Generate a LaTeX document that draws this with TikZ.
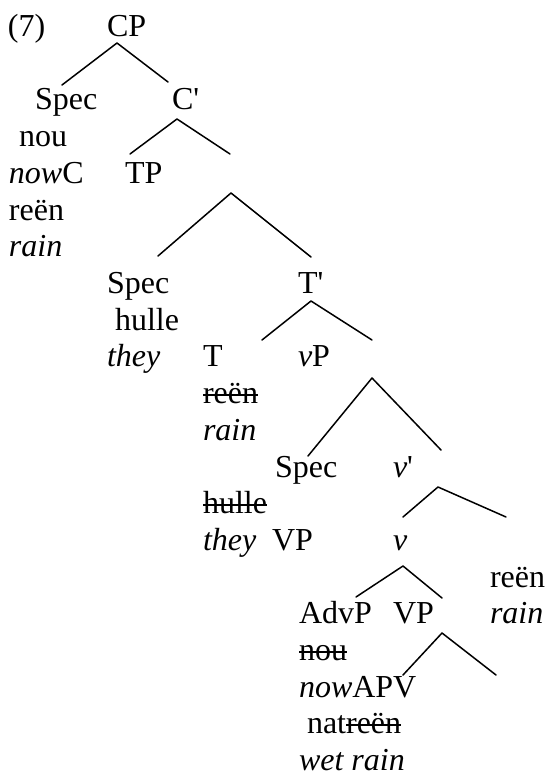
\documentclass[tikz,border=0pt]{standalone}
\usepackage{fontspec}
\setmainfont{Liberation Serif}
\newcommand\strk[1]{\leavevmode\setbox0\hbox{#1}\rlap{\raisebox{0.25em}{\rule{\wd0}{2pt}}}\box0}
\tikzset{
  lbl/.style={anchor=base west, inner sep=0pt, outer sep=0pt, font=\fontsize{32}{36.7}\selectfont},
  branch/.style={line width=1.5pt, line cap=round, line join=round}
}
\begin{document}
\begin{tikzpicture}[x=1pt,y=-1pt]
\useasboundingbox (0,0) rectangle (549,773);
% baselines: 36.6 + 36.7k
\node[lbl] (ex) at (8,36.6) {(7)};
\node[lbl] (cp) at (107,36.6) {CP};
\node[lbl] (spec1) at (35,110) {Spec};
\node[lbl] (cbar) at (172,110) {C\textquotesingle};
\node[lbl] (nou1) at (19,146.7) {nou};
\node[lbl] (nowc) at (9,183.4) {\textit{now}C};
\node[lbl] (tp) at (125,183.4) {TP};
\node[lbl] (reen1) at (9,220.1) {reën};
\node[lbl] (rain1) at (9,256.8) {\textit{rain}};
\node[lbl] (spec2) at (107,293.5) {Spec};
\node[lbl] (tbar) at (298,293.5) {T\textquotesingle};
\node[lbl] (hulle1) at (115,330.2) {hulle};
\node[lbl] (they1) at (107,366.9) {\textit{they}};
\node[lbl] (t) at (203,366.9) {T};
\node[lbl] (vp) at (298,366.9) {\textit{v}P};
\node[lbl] (reen2) at (203,403.6) {\strk{reën}};
\node[lbl] (rain2) at (203,440.3) {\textit{rain}};
\node[lbl] (spec3) at (275,477) {Spec};
\node[lbl] (vbar) at (393,477) {\textit{v}\textquotesingle};
\node[lbl] (hulle2) at (203,513.7) {\strk{hulle}};
\node[lbl] (they2) at (203,550.4) {\textit{they}};
\node[lbl] (vp2) at (272,550.4) {VP};
\node[lbl] (v) at (393,550.4) {\textit{v}};
\node[lbl] (reen3) at (490,587.1) {reën};
\node[lbl] (advp) at (299,623.8) {AdvP};
\node[lbl] (vp3) at (393,623.8) {VP};
\node[lbl] (rain3) at (490,623.8) {\textit{rain}};
\node[lbl] (nou2) at (299,660.5) {\strk{nou}};
\node[lbl] (nowapv) at (299,697.2) {\textit{now}APV};
\node[lbl] (nat) at (307,733.9) {nat\strk{reën}};
\node[lbl] (wetrain) at (299,770.6) {\textit{wet rain}};
% branches
\coordinate (a1) at (117,43); \coordinate (l1) at (62,85); \coordinate (r1) at (168,82);
\coordinate (a2) at (177,119); \coordinate (l2) at (130,154); \coordinate (r2) at (230,154);
\coordinate (a3) at (231,193); \coordinate (l3) at (158,256); \coordinate (r3) at (311,257);
\coordinate (a4) at (311,301); \coordinate (l4) at (262,340); \coordinate (r4) at (372,340);
\coordinate (a5) at (372,378); \coordinate (l5) at (308,456); \coordinate (r5) at (441,450);
\coordinate (a6) at (438,487); \coordinate (l6) at (403,517); \coordinate (r6) at (506,517);
\coordinate (a7) at (403,566); \coordinate (l7) at (356,597); \coordinate (r7) at (442,598);
\coordinate (a8) at (442,633); \coordinate (l8) at (403,675); \coordinate (r8) at (496,675);
\foreach \i in {1,...,8} {
  \draw[branch] (l\i) -- (a\i) -- (r\i);
}
\end{tikzpicture}
\end{document}
